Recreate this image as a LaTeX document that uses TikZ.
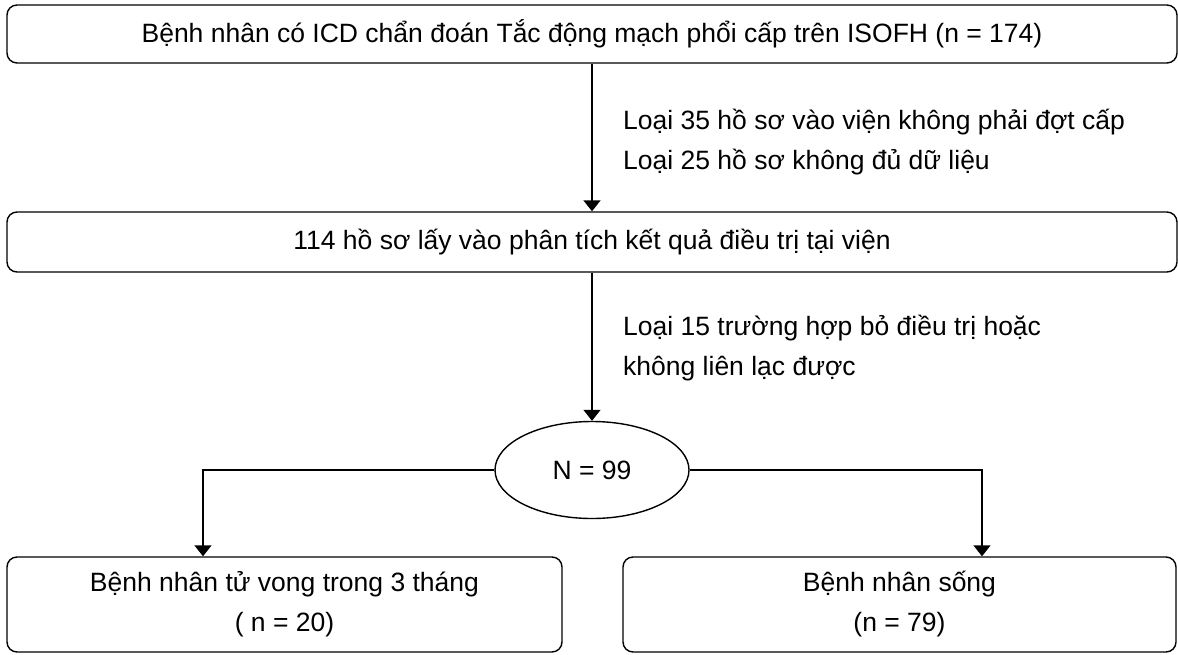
\documentclass[tikz,border=0pt]{standalone}
\usepackage{fontspec}
\setmainfont{Liberation Sans}
\usetikzlibrary{shapes.geometric,arrows.meta}
\begin{document}
\begin{tikzpicture}[x=1pt,y=-1pt,
  txt/.style={font=\fontsize{26.5}{40}\selectfont},
  box/.style={draw, rounded corners=10pt, line width=1.4pt, inner sep=0pt, txt, align=center},
  conn/.style={line width=1.4pt, -{Triangle[width=17pt,length=11pt]}},
  lbl/.style={txt, anchor=west, align=left, inner sep=0pt}]
\useasboundingbox (0,0) rectangle (1178,654);
\node[box, minimum width=1170pt, minimum height=58pt] (top) at (592,34)
  {Bệnh nhân có ICD chẩn đoán Tắc động mạch phổi cấp trên ISOFH (n = 174)};
\node[box, minimum width=1170pt, minimum height=60pt] (mid) at (592,242)
  {114 hồ sơ lấy vào phân tích kết quả điều trị tại viện};
\node[draw, ellipse, line width=1.4pt, minimum width=194pt, minimum height=97pt, inner sep=0pt, txt] (ell) at (592,470) {N = 99};
\node[box, minimum width=555pt, minimum height=95pt] (lb) at (284.5,604.5)
  {Bệnh nhân tử vong trong 3 tháng\\( n = 20)};
\node[box, minimum width=553pt, minimum height=95pt] (rb) at (899.5,604.5)
  {Bệnh nhân sống\\(n = 79)};
\node[lbl] (l1) at (623,142) {Loại 35 hồ sơ vào viện không phải đợt cấp\\Loại 25 hồ sơ không đủ dữ liệu};
\node[lbl] (l2) at (623,348) {Loại 15 trường hợp bỏ điều trị hoặc\\không liên lạc được};
\draw[conn] (top.south) -- (mid.north);
\draw[conn] (mid.south) -- (ell.north);
\draw[conn] (ell.west) -| ([xshift=-81.5pt]lb.north);
\draw[conn] (ell.east) -| ([xshift=82.5pt]rb.north);
\end{tikzpicture}
\end{document}
